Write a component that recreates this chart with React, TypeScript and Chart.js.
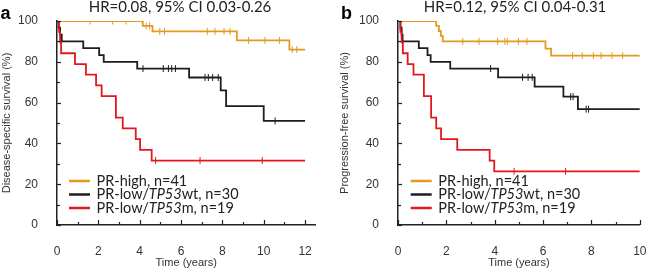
import React, { useEffect, useRef } from 'react';
import { Chart, registerables } from 'chart.js';

Chart.register(...registerables);

// ---------- data ----------
const COLORS = ['#E49A20', '#1E1E1E', '#E3181D'];
const LEGEND_PARTS: [string, boolean][][] = [
  [['PR-high, n=41', false]],
  [['PR-low/', false], ['TP53', true], ['wt, n=30', false]],
  [['PR-low/', false], ['TP53', true], ['m, n=19', false]],
];
const Y_TICKS = [0, 20, 40, 60, 80, 100];
const X_TICKS_A = [0, 2, 4, 6, 8, 10, 12];
const X_TICKS_B = [0, 2, 4, 6, 8, 10];

// Panel a — disease-specific survival (event times, survival after event, censor times)
const A_HIGH_T = [4.15, 4.62, 8.7, 11.24];
const A_HIGH_S = [97.6, 94.9, 90.5, 86.0];
const A_HIGH_C = [1.6, 2.69, 3.34, 4.31, 4.47, 4.97, 5.2, 7.27, 7.64, 8.08, 8.37, 9.26, 10.06, 10.76, 11.38, 11.6];
const A_WT_T = [0.08, 0.15, 0.23, 1.27, 2.04, 2.26, 3.88, 6.39, 7.92, 8.18, 10.0];
const A_WT_S = [96.7, 93.3, 90.0, 86.7, 83.3, 80.0, 76.7, 72.3, 66.0, 58.3, 51.0];
const A_WT_C = [4.16, 5.14, 5.39, 5.55, 5.73, 7.16, 7.32, 7.53, 7.8, 10.55];
const A_MUT_T = [0.1, 0.15, 0.2, 0.87, 1.4, 1.89, 2.16, 2.85, 3.18, 3.81, 4.02, 4.58];
const A_MUT_S = [94.7, 89.5, 84.2, 78.9, 73.7, 68.4, 63.2, 52.6, 47.4, 42.1, 36.8, 31.6];
const A_MUT_C = [4.77, 6.92, 9.93];
const A_END = 12;

// Panel b — progression-free survival
const B_HIGH_T = [1.58, 1.69, 1.77, 1.85, 6.1, 6.33];
const B_HIGH_S = [97.6, 95.1, 92.7, 90.0, 86.5, 83.0];
const B_HIGH_C = [2.68, 3.35, 4.12, 4.42, 4.52, 4.98, 5.33, 7.22, 7.62, 8.08, 8.4, 8.85, 9.29];
const B_WT_T = [0.1, 0.15, 0.19, 0.86, 1.22, 1.35, 2.16, 4.14, 5.65, 6.84, 7.44];
const B_WT_S = [96.7, 93.3, 90.0, 86.7, 83.3, 80.0, 76.7, 72.4, 67.8, 62.9, 56.8];
const B_WT_C = [3.83, 5.15, 5.38, 5.55, 7.14, 7.24, 7.78, 7.88];
const B_MUT_T = [0.1, 0.15, 0.2, 0.4, 0.64, 1.07, 1.37, 1.58, 1.78, 2.45, 3.79, 3.98];
const B_MUT_S = [94.7, 89.5, 84.2, 78.9, 73.7, 63.2, 52.6, 47.4, 42.1, 36.8, 31.6, 26.3];
const B_MUT_C = [4.8, 6.93];
const B_END = 10;

// ---------- helpers ----------
function stepPoints(t: number[], s: number[], end: number) {
  const pts = [{ x: 0, y: 100 }];
  t.forEach((ti, i) => pts.push({ x: ti, y: s[i] }));
  pts.push({ x: end, y: s[s.length - 1] });
  return pts;
}
function survAt(t: number[], s: number[], time: number) {
  let v = 100;
  for (let i = 0; i < t.length; i++) if (t[i] <= time) v = s[i];
  return v;
}

const SANS = "'Liberation Sans', Arial, sans-serif";
const LEG = "Lato, 'Liberation Sans', sans-serif";

const decoPlugin = {
  id: 'deco',
  afterDraw(chart: any, _args: any, opts: any) {
    const ctx = chart.ctx as CanvasRenderingContext2D;
    const xs = chart.scales.x;
    const ys = chart.scales.y;
    ctx.save();
    // inward tick marks
    ctx.strokeStyle = '#222';
    ctx.lineWidth = 1.2;
    const bottom = ys.getPixelForValue(0);
    const left = xs.getPixelForValue(0);
    for (let v = 0; v <= xs.max + 1e-9; v += 1) {
      const px = Math.round(xs.getPixelForValue(v)) + 0.5;
      const len = v % 2 === 0 ? 5 : 3;
      ctx.beginPath();
      ctx.moveTo(px, bottom);
      ctx.lineTo(px, bottom - len);
      ctx.stroke();
    }
    for (let v = 0; v <= 100; v += 10) {
      const py = Math.round(ys.getPixelForValue(v)) + 0.5;
      const len = v % 20 === 0 ? 4 : 3;
      ctx.beginPath();
      ctx.moveTo(left, py);
      ctx.lineTo(left + len, py);
      ctx.stroke();
    }
    // panel letter
    ctx.fillStyle = '#000';
    ctx.font = `bold 18px ${SANS}`;
    ctx.textBaseline = 'alphabetic';
    ctx.textAlign = 'left';
    ctx.fillText(opts.letter, opts.letterX, 18.5);
    // title
    ctx.fillStyle = '#222';
    ctx.font = `15px ${LEG}`;
    ctx.textAlign = 'center';
    ctx.fillText(opts.title, opts.titleX, 12);
    // legend
    ctx.textAlign = 'left';
    ctx.textBaseline = 'middle';
    const rows = [181, 194.5, 208];
    LEGEND_PARTS.forEach((parts, i) => {
      const y = rows[i];
      ctx.strokeStyle = COLORS[i];
      ctx.lineWidth = 2.5;
      ctx.beginPath();
      ctx.moveTo(opts.legendX, y);
      ctx.lineTo(opts.legendX + 21, y);
      ctx.stroke();
      let x = opts.legendX + 27.5;
      ctx.fillStyle = '#222';
      parts.forEach(([txt, it]) => {
        ctx.font = `${it ? 'italic ' : ''}14.5px ${LEG}`;
        ctx.fillText(txt, x, y);
        x += ctx.measureText(txt).width;
      });
    });
    ctx.restore();
  },
};

type PanelCfg = {
  letter: string;
  letterX: number;
  title: string;
  titleX: number;
  legendX: number;
  yTitle: string;
  yTitlePad: number;
  yAxisWidth: number;
  rightPad: number;
  xMax: number;
  xTicks: number[];
  series: { t: number[]; s: number[]; c: number[] }[];
  end: number;
};

function Panel({ cfg, left }: { cfg: PanelCfg; left: number }) {
  const ref = useRef<HTMLCanvasElement>(null);
  useEffect(() => {
    if (!ref.current) return;
    const lineSets: any[] = cfg.series.map((sr, i) => ({
      type: 'line',
      data: stepPoints(sr.t, sr.s, cfg.end),
      borderColor: COLORS[i],
      borderWidth: 1.8,
      stepped: true,
      pointRadius: 0,
      fill: false,
      order: 3 - i,
    }));
    const censorSets: any[] = cfg.series.map((sr, i) => ({
      type: 'scatter',
      data: sr.c.map((c) => ({ x: c, y: survAt(sr.t, sr.s, c) })),
      borderColor: COLORS[i],
      backgroundColor: COLORS[i],
      pointStyle: 'line',
      rotation: 90,
      pointRadius: 3.5,
      borderWidth: 1,
      showLine: false,
      order: 3 - i,
    }));
    const chart = new Chart(ref.current, {
      type: 'line',
      data: { datasets: [...lineSets, ...censorSets] },
      options: {
        animation: false,
        responsive: false,
        devicePixelRatio: 1,
        layout: { padding: { top: 21, right: cfg.rightPad, bottom: 0, left: 0 } },
        plugins: {
          legend: { display: false },
          tooltip: { enabled: false },
          deco: {
            letter: cfg.letter,
            letterX: cfg.letterX,
            title: cfg.title,
            titleX: cfg.titleX,
            legendX: cfg.legendX,
          },
        } as any,
        scales: {
          x: {
            type: 'linear',
            min: 0,
            max: cfg.xMax,
            afterFit: (s: any) => {
              s.height = 45;
            },
            afterBuildTicks: (s: any) => {
              s.ticks = cfg.xTicks.map((v) => ({ value: v }));
            },
            grid: { display: false },
            border: { display: true, color: '#222', width: 1.5 },
            ticks: { padding: 11.5, font: { family: SANS, size: 12 }, color: '#333', maxRotation: 0, autoSkip: false },
            title: {
              display: true,
              text: 'Time (years)',
              font: { family: SANS, size: 11 },
              color: '#333',
              padding: { top: 0, bottom: 0 },
            },
          },
          y: {
            type: 'linear',
            min: 0,
            max: 100,
            afterFit: (s: any) => {
              s.width = cfg.yAxisWidth;
            },
            afterBuildTicks: (s: any) => {
              s.ticks = Y_TICKS.map((v) => ({ value: v }));
            },
            grid: { display: false },
            border: { display: true, color: '#222', width: 1.5 },
            ticks: { padding: 11, font: { family: SANS, size: 12 }, color: '#333' },
            title: {
              display: true,
              text: cfg.yTitle,
              font: { family: SANS, size: 11 },
              color: '#333',
              padding: { top: cfg.yTitlePad, bottom: 0 },
            },
          },
        },
      } as any,
      plugins: [decoPlugin],
    });
    return () => chart.destroy();
  }, [cfg]);
  return (
    <canvas
      ref={ref}
      width={329}
      height={270}
      style={{ position: 'absolute', left, top: 0, width: 329, height: 270 }}
    />
  );
}

const PANEL_A: PanelCfg = {
  letter: 'a',
  letterX: 0.5,
  title: 'HR=0.08, 95% CI 0.03-0.26',
  titleX: 180,
  legendX: 69,
  yTitle: 'Disease-specific survival (%)',
  yTitlePad: 0,
  yAxisWidth: 57,
  rightPad: 13.6,
  xMax: 12.5,
  xTicks: X_TICKS_A,
  series: [
    { t: A_HIGH_T, s: A_HIGH_S, c: A_HIGH_C },
    { t: A_WT_T, s: A_WT_S, c: A_WT_C },
    { t: A_MUT_T, s: A_MUT_S, c: A_MUT_C },
  ],
  end: A_END,
};

const PANEL_B: PanelCfg = {
  letter: 'b',
  letterX: 12,
  title: 'HR=0.12, 95% CI 0.04-0.31',
  titleX: 186,
  legendX: 81.7,
  yTitle: 'Progression-free survival (%)',
  yTitlePad: 9.5,
  yAxisWidth: 69,
  rightPad: 11,
  xMax: 10,
  xTicks: X_TICKS_B,
  series: [
    { t: B_HIGH_T, s: B_HIGH_S, c: B_HIGH_C },
    { t: B_WT_T, s: B_WT_S, c: B_WT_C },
    { t: B_MUT_T, s: B_MUT_S, c: B_MUT_C },
  ],
  end: B_END,
};

export default function App() {
  return (
    <div style={{ position: 'absolute', left: 0, top: 0, width: 658, height: 270, background: '#fff' }}>
      <Panel cfg={PANEL_A} left={0} />
      <Panel cfg={PANEL_B} left={329} />
    </div>
  );
}
